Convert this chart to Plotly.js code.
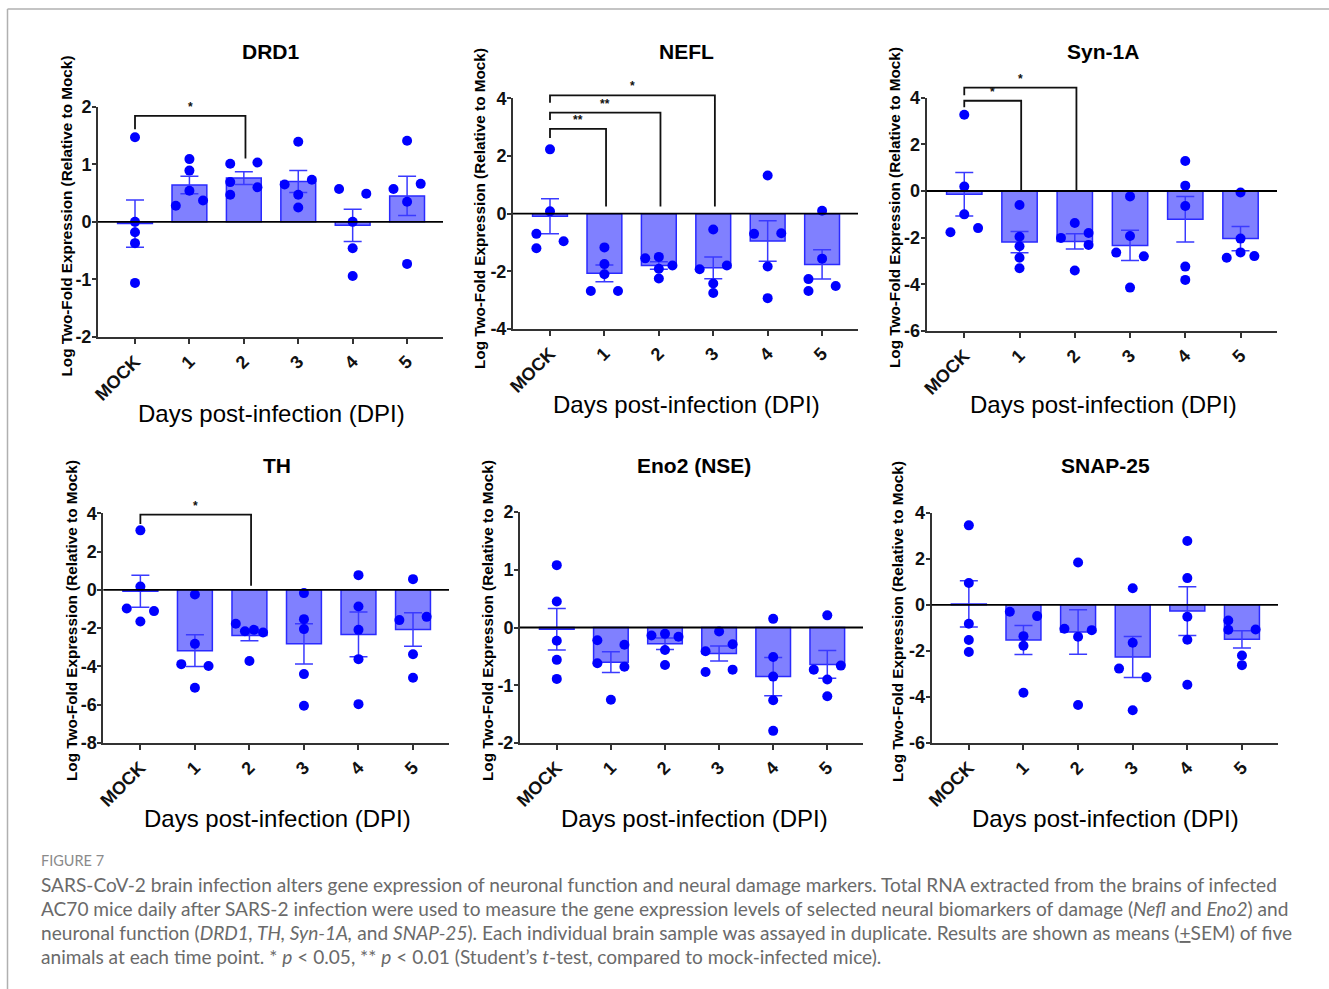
<!DOCTYPE html>
<html>
<head>
<meta charset="utf-8">
<script src="https://cdn.plot.ly/plotly-3.0.1.min.js"></script>
<style>html,body{margin:0;padding:0;background:#fff;}#chart{width:1329px;height:989px;}</style>
</head>
<body>
<div id="chart"></div>
<script>
// ---------- DATA ----------
const categories = ['MOCK', '1', '2', '3', '4', '5'];

// DRD1
const drd1Means = [-0.03, 0.64, 0.76, 0.70, -0.06, 0.45];
const drd1Sem = [0.41, 0.15, 0.11, 0.19, 0.28, 0.34];
const drd1Points = [
  [1.47, 0.00, -0.18, -0.37, -1.06],
  [1.09, 0.89, 0.28, 0.54, 0.37],
  [1.01, 1.03, 0.69, 0.47, 0.60],
  [1.39, 0.65, 0.73, 0.47, 0.25],
  [0.57, 0.49, 0.00, -0.46, -0.94],
  [1.41, 0.57, 0.66, 0.35, -0.73]
];
const drd1Slots = [
  [0, 0, 0, 0, 0], [0, 0, -1, 0, 1], [-1, 1, -1, -1, 1],
  [0, -1, 1, 0, 0], [-1, 1, 0, 0, 0], [0, -1, 1, 0, 0]
];

// NEFL
const neflMeans = [-0.09, -2.07, -1.80, -1.88, -0.95, -1.76];
const neflSem = [0.61, 0.29, 0.13, 0.38, 0.70, 0.51];
const neflPoints = [
  [2.23, 0.08, -0.70, -0.96, -1.20],
  [-1.17, -1.75, -2.10, -2.68, -2.68],
  [-1.55, -1.50, -1.80, -1.91, -2.25],
  [-0.55, -1.93, -1.80, -2.42, -2.75],
  [1.32, -0.70, -0.68, -1.83, -2.93],
  [0.10, -1.56, -2.27, -2.51, -2.68]
];
const neflSlots = [
  [0, 0, -1, 1, -1], [0, 0, 0, -1, 1], [-1, 0, 1, 0, 0],
  [0, -1, 1, 0, 0], [0, -1, 1, 0, 0], [0, 0, -1, 1, -1]
];

// Syn-1A
const synMeans = [-0.14, -2.19, -2.16, -2.33, -1.21, -2.04];
const synSem = [0.93, 0.46, 0.33, 0.65, 0.98, 0.52];
const synPoints = [
  [3.27, 0.19, -1.00, -1.77, -1.59],
  [-0.60, -1.96, -2.37, -2.86, -3.31],
  [-1.37, -2.01, -1.80, -2.31, -3.41],
  [-0.23, -1.93, -2.64, -2.80, -4.14],
  [1.29, 0.23, -0.64, -3.24, -3.81],
  [-0.06, -2.04, -2.86, -2.63, -2.79]
];
const synSlots = [
  [0, 0, 0, -1, 1], [0, 0, 0, 0, 0], [0, -1, 1, 1, 0],
  [0, 0, -1, 1, 0], [0, 0, 0, 0, 0], [0, 0, -1, 0, 1]
];

// TH
const thMeans = [-0.07, -3.18, -2.38, -2.82, -2.33, -2.07];
const thSem = [0.84, 0.83, 0.28, 1.05, 1.17, 0.88];
const thPoints = [
  [3.11, 0.17, -0.97, -1.11, -1.65],
  [-0.24, -2.82, -3.88, -3.98, -5.11],
  [-1.77, -2.16, -2.09, -2.23, -3.72],
  [-0.17, -1.53, -2.05, -4.40, -6.05],
  [0.77, -0.87, -2.09, -3.62, -5.97],
  [0.56, -1.58, -1.41, -3.36, -4.59]
];
const thSlots = [
  [0, 0, -1, 1, 0], [0, 0, -1, 1, 0], [-1, -0.33, 0.33, 1, 0],
  [0, 0, 0, 0, 0], [0, 0, 0, 0, 0], [0, -1, 1, 0, 0]
];

// Eno2 (NSE)
const enoMeans = [-0.03, -0.60, -0.28, -0.45, -0.85, -0.64];
const enoSem = [0.36, 0.18, 0.10, 0.13, 0.33, 0.24];
const enoPoints = [
  [1.08, 0.45, -0.23, -0.56, -0.89],
  [-0.22, -0.30, -0.62, -0.68, -1.25],
  [-0.14, -0.11, -0.16, -0.39, -0.65],
  [-0.07, -0.29, -0.41, -0.77, -0.73],
  [0.15, -0.51, -0.85, -1.26, -1.79],
  [0.21, -0.73, -0.66, -0.90, -1.19]
];
const enoSlots = [
  [0, 0, 0, 0, 0], [-1, 1, -1, 1, 0], [-1, 0, 1, 0, 0],
  [0, 1, -1, -1, 1], [0, 0, 0, 0, 0], [0, -1, 1, 0, 0]
];

// SNAP-25
const snapMeans = [0.04, -1.53, -1.18, -2.27, -0.27, -1.50];
const snapSem = [1.00, 0.63, 0.97, 0.89, 1.06, 0.37];
const snapPoints = [
  [3.45, 0.95, -0.82, -1.53, -2.05],
  [-0.30, -0.49, -1.36, -1.78, -3.82],
  [1.84, -1.04, -1.10, -1.39, -4.35],
  [0.72, -1.65, -2.77, -3.15, -4.58],
  [2.77, 1.16, -0.52, -1.52, -3.47],
  [-0.68, -1.08, -1.07, -2.20, -2.62]
];
const snapSlots = [
  [0, 0, 0, 0, 0], [-1, 1, 0, 0, 0], [0, -1, 1, 0, 0],
  [0, 0, -1, 1, 0], [0, 0, 0, 0, 0], [-1, -1, 1, 0, 0]
];

// Significance brackets: [fromIndex, toIndex, label, topY, leftLegY, rightLegY]
const drd1Sig = [[0, 2, '*', 1.84, 1.61, 1.10]];
const neflSig = [[0, 1, '**', 2.94, 2.62, 0.25], [0, 2, '**', 3.50, 3.25, 0.25], [0, 3, '*', 4.10, 3.85, 0.25]];
const synSig = [[0, 1, '*', 3.87, 3.59, 0.04], [0, 2, '*', 4.43, 4.11, 0.04]];
const thSig = [[0, 2, '*', 3.93, 3.44, 0.21]];

const panelTitles = ['DRD1', 'NEFL', 'Syn-1A', 'TH', 'Eno2 (NSE)', 'SNAP-25'];
const yTicks = [[-2, -1, 0, 1, 2], [-4, -2, 0, 2, 4], [-6, -4, -2, 0, 2, 4],
                [-8, -6, -4, -2, 0, 2, 4], [-2, -1, 0, 1, 2], [-6, -4, -2, 0, 2, 4]];

const xTitle = 'Days post-infection (DPI)';
const yTitle = 'Log Two-Fold Expression (Relative to Mock)';

// ---------- LAYOUT GEOMETRY (pixels) ----------
const W = 1329, H = 989;
const panels = [
  {means: drd1Means, sem: drd1Sem, pts: drd1Points, slots: drd1Slots, sig: drd1Sig,
   px: [98, 443], py: [106.7, 337], title: [270, 52], xt: [271, 413], yt: [65.5, 216]},
  {means: neflMeans, sem: neflSem, pts: neflPoints, slots: neflSlots, sig: neflSig,
   px: [513, 858], py: [98.3, 329], title: [686, 52], xt: [686, 405], yt: [480, 209]},
  {means: synMeans, sem: synSem, pts: synPoints, slots: synSlots, sig: synSig,
   px: [926.7, 1277], py: [97.7, 331], title: [1103, 52], xt: [1103, 405], yt: [894, 208]},
  {means: thMeans, sem: thSem, pts: thPoints, slots: thSlots, sig: thSig,
   px: [103.3, 449], py: [513.3, 743], title: [277, 466], xt: [277, 818], yt: [71, 621]},
  {means: enoMeans, sem: enoSem, pts: enoPoints, slots: enoSlots, sig: [],
   px: [520, 863], py: [512, 743], title: [694, 466], xt: [694, 818], yt: [487, 621]},
  {means: snapMeans, sem: snapSem, pts: snapPoints, slots: snapSlots, sig: [],
   px: [931.7, 1278], py: [512.7, 743], title: [1105, 466], xt: [1105, 818], yt: [897, 621]}
];

const traces = [];
const layout = {
  width: W, height: H,
  margin: {l: 0, r: 0, t: 0, b: 0},
  paper_bgcolor: '#ffffff', plot_bgcolor: 'rgba(0,0,0,0)',
  showlegend: false,
  bargap: 0.36,
  shapes: [], annotations: []
};

const xIdx = categories.map((c, i) => i);
const BLUE = '#0000ff';
const FONT = 'Liberation Sans, Arial, sans-serif';

panels.forEach((p, k) => {
  const n = k === 0 ? '' : String(k + 1);
  const xa = 'x' + n, ya = 'y' + n;
  const xKey = 'xaxis' + n, yKey = 'yaxis' + n;
  const ticks = yTicks[k];
  const yr = [ticks[0], ticks[ticks.length - 1]];
  const xr = [-0.68, 5.66];

  traces.push({
    type: 'bar', x: xIdx, y: p.means, xaxis: xa, yaxis: ya,
    marker: {color: '#8080ff', line: {color: '#2a2aff', width: 1.5}},
    error_y: {type: 'data', array: p.sem, visible: true, color: '#3a3aff', thickness: 1.5, width: 9},
    hoverinfo: 'skip'
  });
  const sx = [], sy = [];
  p.pts.forEach((grp, i) => grp.forEach((v, j) => { sx.push(i + p.slots[i][j] * 0.25); sy.push(v); }));
  traces.push({
    type: 'scatter', mode: 'markers', x: sx, y: sy, xaxis: xa, yaxis: ya,
    marker: {color: BLUE, size: 10}, cliponaxis: false, hoverinfo: 'skip'
  });

  layout[xKey] = {
    domain: [p.px[0] / W, p.px[1] / W], anchor: ya, range: xr,
    tickmode: 'array', tickvals: xIdx, ticktext: categories.map(c => '<b>' + c + '</b>'), tickangle: -45,
    tickfont: {family: FONT, size: 18, color: '#111'},
    showline: true, linecolor: '#333', linewidth: 2, ticks: 'outside', ticklen: 5, tickwidth: 2, tickcolor: '#333',
    showgrid: false, zeroline: false, fixedrange: true
  };
  layout[yKey] = {
    domain: [1 - p.py[1] / H, 1 - p.py[0] / H], anchor: xa, range: yr,
    tickmode: 'array', tickvals: ticks, ticktext: ticks.map(t => '<b>' + String(t) + '</b>'),
    tickfont: {family: FONT, size: 18, color: '#111'}, ticklabelstandoff: -3,
    showline: true, linecolor: '#333', linewidth: 2, ticks: 'outside', ticklen: 4, tickwidth: 2, tickcolor: '#333',
    showgrid: false, zeroline: false, fixedrange: true
  };

  // zero line above bars
  layout.shapes.push({type: 'line', xref: xa + ' domain', yref: ya, x0: 0, x1: 1, y0: 0, y1: 0,
    line: {color: '#000', width: 1.8}, layer: 'above'});

  // significance brackets
  const toDom = v => (v - yr[0]) / (yr[1] - yr[0]);
  p.sig.forEach(s => {
    const [a, b, lab, top, lLeg, rLeg] = s;
    const bx = b + 0.03;
    layout.shapes.push({
      type: 'path', xref: xa, yref: ya + ' domain',
      path: `M ${a},${toDom(lLeg)} L ${a},${toDom(top)} L ${bx},${toDom(top)} L ${bx},${toDom(rLeg)}`,
      line: {color: '#111', width: 1.8}, layer: 'above'
    });
    layout.annotations.push({
      xref: xa, yref: ya + ' domain', x: (a + bx) / 2, y: toDom(top), text: '<b>' + lab + '</b>', showarrow: false,
      yanchor: 'bottom', yshift: 0, font: {family: FONT, size: 12, color: '#111'}
    });
  });

  // panel title
  layout.annotations.push({xref: 'paper', yref: 'paper', x: p.title[0] / W, y: 1 - p.title[1] / H,
    text: '<b>' + panelTitles[k] + '</b>', showarrow: false, xanchor: 'center', yanchor: 'middle',
    font: {family: FONT, size: 21, color: '#000'}});
  // x title
  layout.annotations.push({xref: 'paper', yref: 'paper', x: p.xt[0] / W, y: 1 - p.xt[1] / H,
    text: xTitle, showarrow: false, xanchor: 'center', yanchor: 'middle',
    font: {family: FONT, size: 24, color: '#000'}});
  // y title
  layout.annotations.push({xref: 'paper', yref: 'paper', x: p.yt[0] / W, y: 1 - p.yt[1] / H,
    text: '<b>' + yTitle + '</b>', showarrow: false, textangle: -90, xanchor: 'center', yanchor: 'middle',
    font: {family: FONT, size: 15.3, color: '#000'}});
});

// figure frame lines
layout.shapes.push({type: 'line', xref: 'paper', yref: 'paper', x0: 7.5 / W, x1: 1, y0: 1 - 9 / H, y1: 1 - 9 / H,
  line: {color: '#b0b0b0', width: 1.5}});
layout.shapes.push({type: 'line', xref: 'paper', yref: 'paper', x0: 7.5 / W, x1: 7.5 / W, y0: 0, y1: 1 - 9 / H,
  line: {color: '#b0b0b0', width: 1.5}});

// caption
const captionHead = 'FIGURE 7';
const captionLines = [
  'SARS-CoV-2 brain infection alters gene expression of neuronal function and neural damage markers. Total RNA extracted from the brains of infected',
  'AC70 mice daily after SARS-2 infection were used to measure the gene expression levels of selected neural biomarkers of damage (<i>Nefl</i> and <i>Eno2</i>) and',
  'neuronal function (<i>DRD1, TH, Syn-1A,</i> and <i>SNAP-25</i>). Each individual brain sample was assayed in duplicate. Results are shown as means (<u>+</u>SEM) of five',
  'animals at each time point. * <i>p</i> &lt; 0.05, ** <i>p</i> &lt; 0.01 (Student\u2019s <i>t</i>-test, compared to mock-infected mice).'
];
layout.annotations.push({xref: 'paper', yref: 'paper', x: 39 / W, y: 1 - 860 / H, text: captionHead,
  showarrow: false, xanchor: 'left', yanchor: 'middle', font: {family: 'Lato, sans-serif', size: 14.5, color: '#8a8a8a'}});
captionLines.forEach((t, i) => {
  layout.annotations.push({xref: 'paper', yref: 'paper', x: 39 / W, y: 1 - (884 + 24 * i) / H, text: t,
    showarrow: false, xanchor: 'left', yanchor: 'middle', align: 'left',
    font: {family: 'Lato, sans-serif', size: 19.1, color: '#6a6a6a'}});
});

Plotly.newPlot('chart', traces, layout, {staticPlot: true, displayModeBar: false});
</script>
</body>
</html>
